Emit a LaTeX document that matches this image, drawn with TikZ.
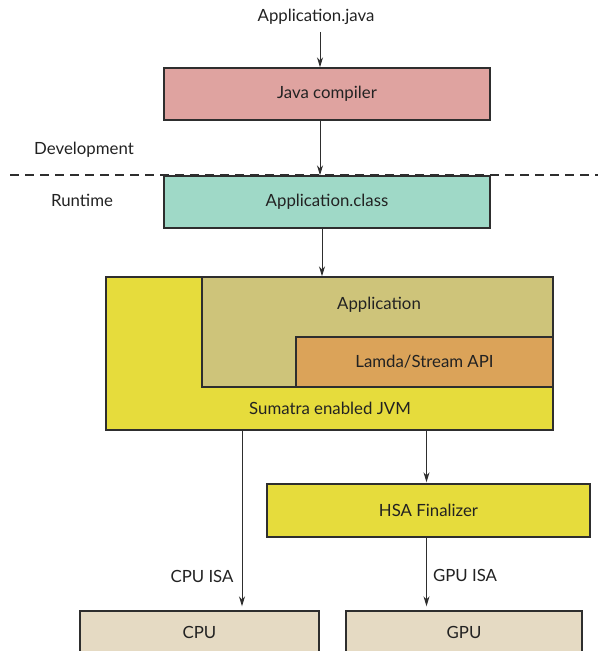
\documentclass[tikz,border=0pt]{standalone}
\usepackage{fontspec}
\setmainfont{Lato}
\usetikzlibrary{arrows.meta}

\definecolor{javacred}{HTML}{DFA3A0}
\definecolor{classgreen}{HTML}{9FD9C7}
\definecolor{jvmyellow}{HTML}{E6DC3C}
\definecolor{appolive}{HTML}{CEC47A}
\definecolor{apiorange}{HTML}{DBA359}
\definecolor{hwbeige}{HTML}{E5DAC3}
\definecolor{linegray}{HTML}{2E2E2E}
\definecolor{txtgray}{HTML}{222222}

\tikzset{
  blk/.style={draw=linegray, line width=1.4pt, inner sep=0pt, text=txtgray},
  flow/.style={draw=linegray, line width=1pt, -{Stealth[length=10pt,width=6pt]}},
  lbl/.style={text=txtgray, inner sep=0pt}
}

\begin{document}
\begin{tikzpicture}[x=1pt, y=-1pt, font=\fontsize{16.8}{20}\selectfont]
  \clip (0,0) rectangle (598,651);

  \node[lbl] (src) at (316,17) {Application.java};
  \node[blk, fill=javacred, minimum width=326pt, minimum height=52pt] (javac) at (327,94) {Java compiler};
  \node[blk, fill=classgreen, minimum width=326pt, minimum height=52pt] (class) at (327,202) {Application.class};

  \node[lbl] (dev) at (84,150) {Development};
  \node[lbl] (run) at (82,200) {Runtime};
  \coordinate (dashl) at (10,175);
  \coordinate (dashr) at (598,175);
  \draw[linegray, line width=1.1pt, dash pattern=on 9pt off 6pt] (dashl) -- (dashr);

  % nested JVM boxes
  \node[blk, fill=jvmyellow, minimum width=447pt, minimum height=153pt] (jvm) at (329.5,353.5) {};
  \node[blk, fill=appolive, minimum width=351pt, minimum height=110pt] (app) at (377.5,332) {};
  \node[lbl] (apptxt) at (379,305) {Application};
  \node[blk, fill=apiorange, minimum width=257pt, minimum height=50pt] (api) at (424.5,362) {Lamda/Stream API};
  \node[lbl] (jvmtxt) at (330,408) {Sumatra enabled JVM};

  \node[blk, fill=jvmyellow, minimum width=323pt, minimum height=53pt] (hsa) at (428.5,510.5) {HSA Finalizer};
  \node[blk, fill=hwbeige, minimum width=239pt, minimum height=42pt] (cpu) at (199.5,632) {CPU};
  \node[blk, fill=hwbeige, minimum width=236pt, minimum height=42pt] (gpu) at (464,632) {GPU};

  \coordinate (ax) at (320,0);
  \coordinate (bx) at (322,0);
  \coordinate (cx) at (242,0);
  \coordinate (gx) at (426.5,0);

  \draw[flow, shorten <=7pt] (src.south -| ax) -- (javac.north -| ax);
  \draw[flow] (javac.south -| ax) -- (class.north -| ax);
  \draw[flow] (class.south -| bx) -- (jvm.north -| bx);
  \draw[flow, shorten >=4pt] (jvm.south -| cx) -- node[lbl, pos=0.81, left=8pt] (cpuisa) {CPU ISA} (cpu.north -| cx);
  \draw[flow, shorten >=1pt] (jvm.south -| gx) -- (hsa.north -| gx);
  \draw[flow, shorten >=4pt] (hsa.south -| gx) -- node[lbl, pos=0.52, right=6pt] (gpuisa) {GPU ISA} (gpu.north -| gx);
\end{tikzpicture}
\end{document}
